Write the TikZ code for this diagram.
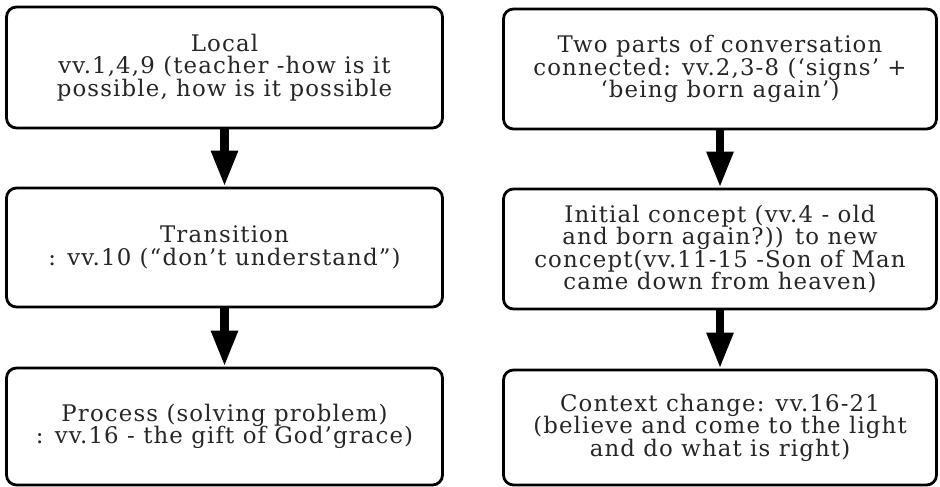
\documentclass[tikz,border=0pt]{standalone}
\usepackage{fontspec}
\setmainfont[LetterSpace=5]{DejaVu Serif}
\usepackage{tikz}
\usetikzlibrary{arrows.meta}
\newcommand{\colL}{4.49}
\newcommand{\colR}{14.4}
\tikzstyle{box}=[draw, rounded corners=0.2cm, line width=1.6pt, align=center, inner sep=2pt, minimum height=2.4cm, text=black!85, font=\fontsize{13}{12.8}\selectfont]
\tikzstyle{boxL}=[box, minimum width=8.72cm]
\tikzstyle{boxR}=[box, minimum width=8.66cm]
\tikzstyle{flow}=[line width=4.8pt, -{Triangle[length=0.72cm, width=0.5cm]}]

\begin{document}
\begin{tikzpicture}
\useasboundingbox (0,0) rectangle (18.8,-9.74);

%left column
\draw (\colL,-1.35) node[boxL, minimum height=2.42cm] (local) {Local\\vv.1,4,9 (teacher -how is it\\possible, how is it possible};
\draw (\colL,-4.95) node[boxL, minimum height=2.38cm] (trans) {Transition\\: vv.10 (“don’t understand”)};
\draw (\colL,-8.53) node[boxL, minimum height=2.34cm] (process) {Process (solving problem)\\: vv.16 - the gift of God’grace)};
\draw[flow] (local) -- (trans);
\draw[flow] (trans) -- (process);

%right column
\draw (\colR,-1.38) node[boxR] (parts) {Two parts of conversation\\connected: vv.2,3-8 (‘signs’ +\\‘being born again’)};
\draw (\colR,-4.98) node[boxR] (concept) {Initial concept (vv.4 - old\\and born again?)) to new\\concept(vv.11-15 -Son of Man\\came down from heaven)};
\draw (\colR,-8.55) node[boxR, minimum height=2.3cm] (context) {Context change: vv.16-21\\(believe and come to the light\\and do what is right)};
\draw[flow] (parts) -- (concept);
\draw[flow] (concept) -- (context);
\end{tikzpicture}
\end{document}
